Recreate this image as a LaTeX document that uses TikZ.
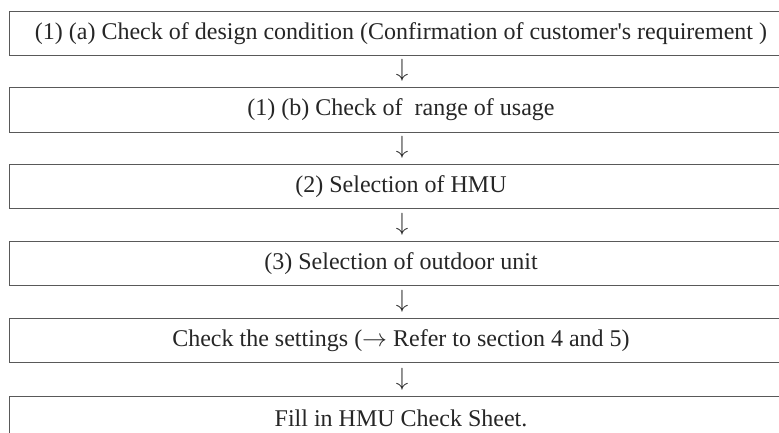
\documentclass[tikz,border=0pt]{standalone}
\usepackage{fontspec}
\newfontfamily\flowfont{Liberation Serif}
\tikzset{
  stepbox/.style={draw=black!65, line width=0.8pt, minimum width=784pt,
    minimum height=44.5pt, inner sep=0pt, text=black!85,
    font=\flowfont\fontsize{24}{28}\selectfont},
  downmark/.style={inner sep=0pt, text=black!85,
    font=\fontsize{24}{28}\selectfont}
}

\begin{document}
\begin{tikzpicture}[x=1pt,y=1pt]
  \useasboundingbox (0,0) rectangle (779,-432);

  \node[stepbox] (design) at (401,-33.25) {(1) (a) Check of design condition (Confirmation of customer's requirement )};
  \node[downmark] (d1) at (402,-70.5) {$\downarrow$};
  \node[stepbox] (range) at (401,-109.75) {(1) (b) Check of\ \ range of usage};
  \node[downmark] (d2) at (402,-147.5) {$\downarrow$};
  \node[stepbox] (hmu) at (401,-186.5) {(2) Selection of HMU};
  \node[downmark] (d3) at (402,-224.5) {$\downarrow$};
  \node[stepbox] (outdoor) at (401,-263.25) {(3) Selection of outdoor unit};
  \node[downmark] (d4) at (402,-301.5) {$\downarrow$};
  \node[stepbox] (settings) at (401,-340.5) {Check the settings ($\rightarrow$ Refer to section 4 and 5)};
  \node[downmark] (d5) at (402,-379) {$\downarrow$};
  \node[stepbox] (sheet) at (401,-418.25) {Fill in HMU Check Sheet.};
\end{tikzpicture}
\end{document}
